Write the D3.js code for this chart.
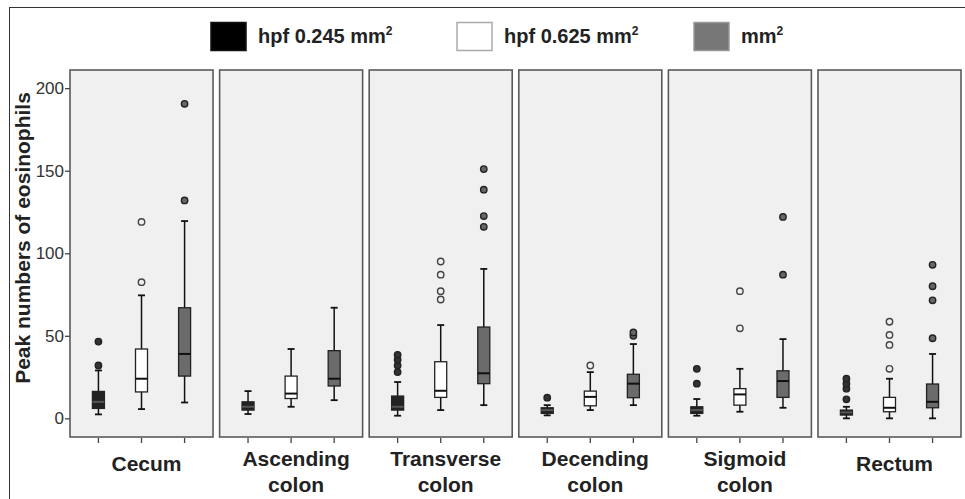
<!DOCTYPE html>
<html>
<head>
<meta charset="utf-8">
<script src="https://cdn.jsdelivr.net/npm/d3@7"></script>
<style>
body { margin: 0; background: #fff; }
svg { display: block; font-family: "Liberation Sans", Arial, sans-serif; }
</style>
</head>
<body>
<svg id="chart" width="965" height="499"></svg>
<script>
// sites along the colon
var sites = ["Cecum", "Ascending colon", "Transverse colon", "Decending colon", "Sigmoid colon", "Rectum"]
var groups = ["hpf 0.245", "hpf 0.625", ""]
var yTicks = [0, 50, 100, 150, 200]

// [whisker low, q1, median, q3, whisker high] per site
var stats245 = [[2.4, 6, 10, 16.3, 29], [2.6, 5, 7, 10, 16.5], [1.6, 5, 7, 13.5, 22], [1.8, 3, 5, 6.4, 8], [1.6, 3, 5, 7, 11.7], [0, 2, 3.6, 5, 7]]
var stats625 = [[5.6, 16, 24, 42, 74.5], [7, 12, 15, 25.6, 42], [5, 12.7, 16.7, 34.3, 56.5], [5, 7.6, 13, 16.5, 28], [4, 8, 14.5, 18, 30], [0, 4, 6.4, 12.7, 24]]
var statsMm = [[9.6, 25.6, 39, 67, 119.5], [11, 19.6, 24, 41, 67], [8, 21, 27.3, 55.3, 90.5], [8, 12.5, 21, 26.7, 45], [6.4, 12.7, 22.6, 28.8, 48], [0, 6.4, 10, 20.8, 39]]

// outliers per site
var out245 = [[32, 46.5], [], [28, 32, 35.5, 38.5], [12.5], [21, 30], [11.5, 18, 21, 24]]
var out625 = [[82.5, 119], [], [72, 77, 87, 95], [32], [54.5, 77], [30, 44.5, 50.5, 58.5]]
var outMm = [[132, 190.5], [], [116, 122.5, 138.5, 151], [50, 52], [87, 122], [48.5, 71.5, 80, 93]]

var allStats = [stats245, stats625, statsMm]
var allOut = [out245, out625, outMm]
var boxFill = ["#222", "#fff", "#6b6b6b"]
var dotFill = ["#333", "none", "#666"]

var svg = d3.select("#chart")

var top_ = 70, bottom_ = 437

var y = d3.scaleLinear().domain([-11.3, 211]).range([bottom_, top_])
var facet = d3.scaleBand().domain(sites).range([70, 961]).paddingInner(0.044)
var inner = d3.scalePoint().domain(d3.range(3)).range([0, facet.bandwidth()]).padding(0.66)

// outer frame
svg.append("rect")
    .attr("x", 9.5).attr("y", 7.5)
    .attr("width", 1000).attr("height", 1000)
    .attr("fill", "none").attr("stroke", "#333").attr("stroke-width", 1)

// legend
var legX = [211, 457, 694]
var legend = svg.append("g").selectAll("g")
    .data(groups)
    .enter()
    .append("g")
legend.append("rect")
    .attr("x", function(d, i) { return legX[i] })
    .attr("y", 22.5)
    .attr("width", 35).attr("height", 28)
    .attr("fill", function(d, i) { return ["#000", "#fff", "#777"][i] })
    .attr("stroke", function(d, i) { return ["#111", "#aaa", "#999"][i] })
    .attr("stroke-width", 1.5)
var legText = legend.append("text")
    .attr("x", function(d, i) { return legX[i] + 47 })
    .attr("y", 43)
    .attr("font-size", "20px")
    .attr("font-weight", "bold")
    .attr("fill", "#222")
legText.append("tspan").text(function(d) { return d == "" ? "mm" : d + " mm" })
legText.append("tspan").attr("dy", -8).attr("font-size", "12px").text("2")

// panels
var panels = svg.append("g").selectAll("g")
    .data(sites)
    .enter()
    .append("g")
    .attr("transform", function(d) { return "translate(" + facet(d) + ",0)" })

panels.append("rect")
    .attr("x", 0).attr("y", top_)
    .attr("width", facet.bandwidth()).attr("height", bottom_ - top_)
    .attr("fill", "#f0f0f0").attr("stroke", "#5a5a5a").attr("stroke-width", 1.6)

// bottom ticks
panels.selectAll("line.xt")
    .data(d3.range(3))
    .enter()
    .append("line")
    .attr("class", "xt")
    .attr("x1", function(d) { return inner(d) }).attr("x2", function(d) { return inner(d) })
    .attr("y1", bottom_ + 1).attr("y2", bottom_ + 6)
    .attr("stroke", "#444").attr("stroke-width", 1.3)

// boxes
var bw = 12, cw = 7
panels.each(function(site, si) {
    var g = d3.select(this)
    for (var k = 0; k < 3; k++) {
        var s = allStats[k][si]
        var cx = inner(k)
        var bg = g.append("g")
        bg.append("line")
            .attr("x1", cx).attr("x2", cx)
            .attr("y1", y(s[0])).attr("y2", y(s[4]))
            .attr("stroke", "#111").attr("stroke-width", 1.5)
        bg.selectAll("line.cap")
            .data([s[0], s[4]])
            .enter()
            .append("line")
            .attr("class", "cap")
            .attr("x1", cx - cw / 2).attr("x2", cx + cw / 2)
            .attr("y1", function(d) { return y(d) }).attr("y2", function(d) { return y(d) })
            .attr("stroke", "#111").attr("stroke-width", 1.8)
        bg.append("rect")
            .attr("x", cx - bw / 2).attr("y", y(s[3]))
            .attr("width", bw).attr("height", y(s[1]) - y(s[3]))
            .attr("fill", boxFill[k]).attr("stroke", "#222").attr("stroke-width", 1.3)
        bg.append("line")
            .attr("x1", cx - bw / 2).attr("x2", cx + bw / 2)
            .attr("y1", y(s[2])).attr("y2", y(s[2]))
            .attr("stroke", k == 0 ? "#555" : "#111").attr("stroke-width", 2)
        bg.selectAll("circle")
            .data(allOut[k][si])
            .enter()
            .append("circle")
            .attr("cx", cx).attr("cy", function(d) { return y(d) })
            .attr("r", 3.2)
            .attr("fill", dotFill[k])
            .attr("stroke", k == 1 ? "#444" : "#222")
            .attr("stroke-width", 1.4)
    }
})

// site labels
panels.append("text")
    .attr("x", facet.bandwidth() / 2 + 5)
    .attr("font-size", "21px")
    .attr("font-weight", "bold")
    .attr("fill", "#222")
    .attr("text-anchor", "middle")
    .selectAll("tspan")
    .data(function(d) { return d.split(" ") })
    .enter()
    .append("tspan")
    .attr("x", facet.bandwidth() / 2 + 5)
    .attr("y", function(d, i, n) { return n.length == 1 ? 471 : 466 + i * 26 })
    .text(function(d) { return d })

// y axis
var yAxis = svg.append("g")
    .attr("transform", "translate(" + facet(sites[0]) + ",0)")
    .call(d3.axisLeft(y).tickValues(yTicks).tickSize(5).tickPadding(1))
yAxis.select(".domain").remove()
yAxis.selectAll("line").attr("stroke", "#444").attr("stroke-width", 1.3)
yAxis.selectAll("text")
    .attr("font-size", "17px")
    .attr("font-family", "Liberation Sans, Arial, sans-serif")
    .attr("fill", "#333")

svg.append("text")
    .attr("transform", "translate(30," + 238 + ") rotate(-90)")
    .attr("text-anchor", "middle")
    .attr("font-size", "21px")
    .attr("font-weight", "bold")
    .attr("fill", "#222")
    .text("Peak numbers of eosinophils")
</script>
</body>
</html>
